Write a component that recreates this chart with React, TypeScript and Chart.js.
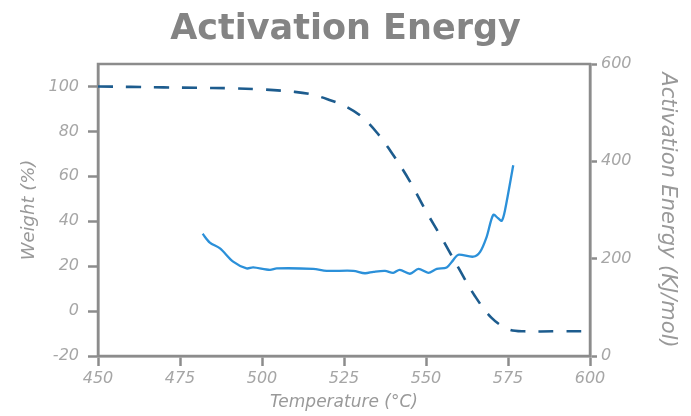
import React, { useEffect, useRef } from "react";
import { Chart, registerables } from "chart.js";

Chart.register(...registerables);

// Weight loss curve (left axis, %)
const weightTemps = [450, 460, 470, 480, 490, 500, 510, 515, 520, 525, 530, 535, 540, 545, 550, 555, 560, 565, 570, 575, 580, 590, 600];
const weightValues = [100, 99.8, 99.6, 99.4, 99.2, 98.7, 97.6, 96.5, 94.3, 91.5, 87, 79.5, 69.5, 58, 44.5, 32, 19, 6.5, -3, -8, -9, -9, -9];

// Activation energy curve (right axis, kJ/mol)
const energyTemps = [481.9, 484.1, 487.2, 491.2, 495.3, 497.3, 502.4, 504.5, 515.6, 519.7, 527.8, 531.4, 534, 537.5, 540, 542, 545.1, 547.7, 550.7, 553.3, 556.3, 558.3, 559.8, 564.4, 566.5, 568.5, 570.5, 572, 573.1, 574.1, 576.6];
const energyValues = [251, 233, 221, 194, 180, 182, 177, 180, 179, 175, 175, 170, 173, 175, 171, 177, 169, 179, 171, 179, 182, 197, 208, 204, 214, 245, 290, 283, 278, 300, 392];

const tempTicks = [450, 475, 500, 525, 550, 575, 600];
const weightTicks = [-20, 0, 20, 40, 60, 80, 100];
const energyTicks = [0, 200, 400, 600];

const AXIS_GRAY = "#8c8c8c";
const LABEL_GRAY = "#a6a6a6";
const TITLE_GRAY = "#999999";

const tickFont = { family: "'DejaVu Sans', sans-serif", style: "italic" as const, size: 16 };
const axisTitleFont = { family: "'DejaVu Sans', sans-serif", style: "italic" as const, size: 17 };

// Frame around the plotting area (top and right edges included)
const frame = {
  id: "frame",
  beforeDatasetsDraw(chart: Chart) {
    const { ctx, chartArea } = chart;
    ctx.save();
    ctx.strokeStyle = AXIS_GRAY;
    ctx.lineWidth = 2.5;
    ctx.strokeRect(chartArea.left, chartArea.top, chartArea.right - chartArea.left, chartArea.bottom - chartArea.top);
    ctx.restore();
  },
};

export default function App() {
  const canvasRef = useRef<HTMLCanvasElement | null>(null);

  useEffect(() => {
    if (!canvasRef.current) return;
    const chart = new Chart(canvasRef.current, {
      type: "line",
      data: {
        datasets: [
          {
            label: "Weight",
            data: weightTemps.map((t, i) => ({ x: t, y: weightValues[i] })),
            yAxisID: "y",
            borderColor: "#1d5c8e",
            borderWidth: 2.6,
            borderDash: [15, 13],
            pointRadius: 0,
            tension: 0.35,
            fill: false,
          },
          {
            label: "Activation Energy",
            data: energyTemps.map((t, i) => ({ x: t, y: energyValues[i] })),
            yAxisID: "y2",
            borderColor: "#2b90d9",
            borderWidth: 2.3,
            pointRadius: 0,
            tension: 0.3,
            fill: false,
          },
        ],
      },
      options: {
        responsive: false,
        animation: false,
        layout: { padding: 0 },
        plugins: {
          legend: { display: false },
          tooltip: { enabled: false },
          title: {
            display: true,
            text: "Activation Energy",
            color: "#848484",
            font: { family: "'DejaVu Sans', sans-serif", weight: "bold", size: 35, lineHeight: 1 },
            padding: { top: 12, bottom: 17 },
          },
        },
        scales: {
          x: {
            type: "linear",
            position: "bottom",
            min: 450,
            max: 600,
            afterBuildTicks: (s: any) => { s.ticks = tempTicks.map((v) => ({ value: v })); },
            afterFit: (s: any) => { s.height = 60; },
            ticks: { color: LABEL_GRAY, font: tickFont, padding: 3, maxRotation: 0 },
            grid: { drawOnChartArea: false, tickLength: 10, tickColor: AXIS_GRAY, tickWidth: 2.5 },
            border: { color: AXIS_GRAY, width: 2.5 },
            title: { display: true, text: "Temperature (°C)", color: TITLE_GRAY, font: axisTitleFont, padding: { top: 0, bottom: 3 } },
          },
          y: {
            type: "linear",
            position: "left",
            min: -20,
            max: 110,
            afterBuildTicks: (s: any) => { s.ticks = weightTicks.map((v) => ({ value: v })); },
            afterFit: (s: any) => { s.width = 98; },
            ticks: { color: LABEL_GRAY, font: tickFont, padding: 9 },
            grid: { drawOnChartArea: false, tickLength: 10, tickColor: AXIS_GRAY, tickWidth: 2.5 },
            border: { color: AXIS_GRAY, width: 2.5 },
            title: { display: true, text: "Weight (%)", color: TITLE_GRAY, font: { ...axisTitleFont, size: 18 }, padding: { top: 19, bottom: 0 } },
          },
          y2: {
            type: "linear",
            position: "right",
            min: 0,
            max: 600,
            afterBuildTicks: (s: any) => { s.ticks = energyTicks.map((v) => ({ value: v })); },
            afterFit: (s: any) => { s.width = 101; },
            ticks: { color: LABEL_GRAY, font: tickFont, padding: 4 },
            grid: { drawOnChartArea: false, tickLength: 7, tickColor: AXIS_GRAY, tickWidth: 2.5 },
            border: { color: AXIS_GRAY, width: 2.5 },
            title: { display: true, text: "Activation Energy (KJ/mol)", color: TITLE_GRAY, font: { ...axisTitleFont, size: 21 }, padding: { top: 11, bottom: 0 } },
          },
        },
      },
      plugins: [frame],
    });
    return () => chart.destroy();
  }, []);

  return (
    <div style={{ position: "absolute", left: 0, top: 0, width: 691, height: 416, background: "#fff" }}>
      <canvas ref={canvasRef} width={691} height={416} style={{ display: "block" }} />
    </div>
  );
}
